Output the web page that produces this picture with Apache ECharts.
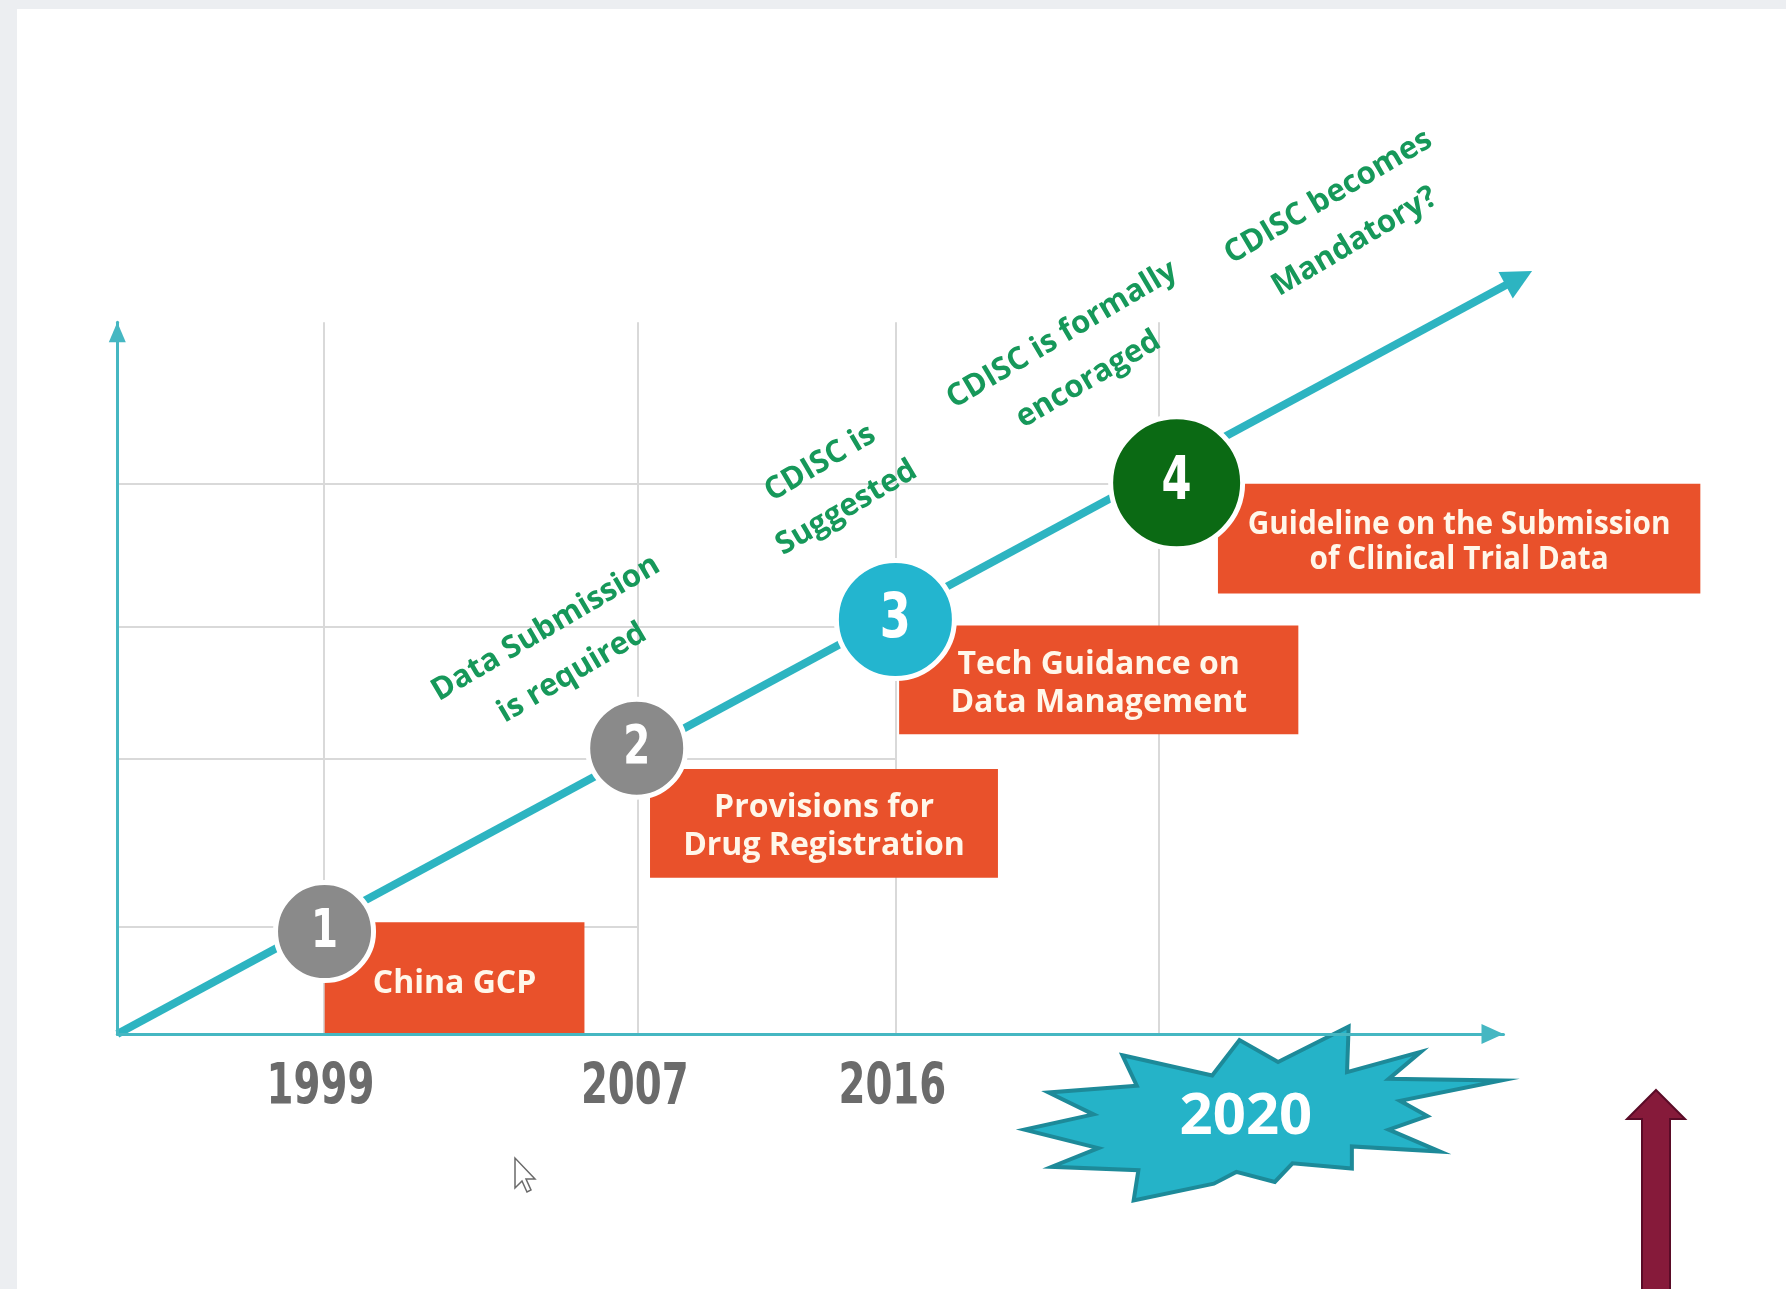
<!DOCTYPE html>
<html>
<head>
<meta charset="utf-8">
<script src="https://cdn.jsdelivr.net/npm/echarts@6/dist/echarts.min.js"></script>
<style>
html,body{margin:0;padding:0;background:#fff;}
#chart{width:1786px;height:1289px;}
</style>
</head>
<body>
<div id="chart"></div>
<script>
// ---------------- data ----------------
const years = ['1999', '2007', '2016', '2020'];
const stepNumbers = ['1', '2', '3', '4'];
// milestone positions on the timeline (x) and progress (y) scales, 0..100 units
const timelinePos = [14.87, 37.55, 56.13, 75.10];
const progressLevel = [15.04, 38.71, 57.27, 77.27];
const markerX = [14.95, 37.47, 56.13, 76.42];
const markerY = [14.4, 40.16, 58.24, 77.44];
const events = [
  'China GCP',
  'Provisions for\nDrug Registration',
  'Tech Guidance on\nData Management',
  'Guideline on the Submission\nof Clinical Trial Data'
];
// event box extents: [xStart, xEnd, yBottom, yTop]
const eventBoxes = [
  [14.96, 33.70, 0.00, 15.70],
  [38.43, 63.53, 21.94, 37.24],
  [56.40, 85.20, 42.10, 57.40],
  [79.40, 114.20, 61.90, 77.30]
];
const stages = [
  'Data Submission\nis required',
  'CDISC is\nSuggested',
  'CDISC is formally\nencoraged',
  'CDISC becomes\nMandatory?'
];
const stageX = [31.86, 51.65, 69.10, 88.31];
const stageY = [53.87, 77.07, 95.10, 114.47];
const trendEnd = [102.06, 107.2];
const highlightYear = '2020';
const highlightPos = [81.42, -11.77];

// ---------------- styles ----------------
const TEAL = '#2db4c1';
const AXIS = '#45b7c2';
const GRID = '#d9d9d9';
const BOX = '#e9512b';
const BOX_TEXT = '#fff7ea';
const GREEN_TEXT = '#16985a';
const markerColors = ['#8a8a8a', '#8a8a8a', '#23b5cf', '#0b6a14'];
const markerSizes = [98, 98, 118, 132];
const markerFont = [54, 54, 62, 60];
const HEAVY = "'DejaVu Sans',sans-serif";
const SANS = "'Open Sans','Noto Sans',sans-serif";
// star outline relative to its centre (px)
const starShape = [
  [-130,-62.5],[-35.5,-42.2],[-6.8,-77.7],[33.8,-55.7],[108.1,-91.2],[106.4,-45.6],
  [184.1,-65.9],[150.3,-38.9],[268.6,-37.2],[162.2,-16.9],[190.9,-1.7],[150.3,11.8],
  [204.4,33.8],[111.5,28.7],[111.5,50.7],[49,45.6],[30.4,64.2],[-10.1,54.1],
  [-33.8,65.9],[-118.2,82.8],[-113.2,52.4],[-204.4,49],[-155.4,30.4],[-233.1,11.8],
  [-160.5,-3.4],[-207.8,-25.3],[-114.9,-32.1]
];

// grid lines (staircase)
const gridLines = [];
timelinePos.forEach(function (x) {
  gridLines.push([{ coord: [x, 0] }, { coord: [x, 100] }]);
});
progressLevel.forEach(function (y, i) {
  const xEnd = timelinePos[Math.min(i + 1, timelinePos.length - 1)];
  gridLines.push([{ coord: [0, y] }, { coord: [xEnd, y] }]);
});

const chart = echarts.init(document.getElementById('chart'), null, { renderer: 'canvas' });

const option = {
  animation: false,
  backgroundColor: '#ffffff',
  grid: { left: 117.3, right: 282.5, top: 322.3, bottom: 255 },
  xAxis: {
    type: 'value', min: 0, max: 100, z: 10,
    axisLine: { show: true, lineStyle: { color: AXIS, width: 3 },
      symbol: ['none', 'triangle'], symbolSize: [20, 22], symbolOffset: [0, -11] },
    axisTick: { show: false },
    splitLine: { show: false },
    axisLabel: { show: false }
  },
  yAxis: {
    type: 'value', min: 0, max: 100, z: 10,
    axisLine: { show: true, lineStyle: { color: AXIS, width: 3 },
      symbol: ['none', 'triangle'], symbolSize: [17, 20], symbolOffset: [0, -10] },
    axisTick: { show: false },
    splitLine: { show: false },
    axisLabel: { show: false }
  },
  graphic: [
    { type: 'rect', z: -5, silent: true, shape: { x: 0, y: 0, width: 1786, height: 9 }, style: { fill: '#eceef1' } },
    { type: 'rect', z: -5, silent: true, shape: { x: 0, y: 0, width: 17, height: 1289 }, style: { fill: '#eceef1' } },
    { type: 'polygon', z: 50, silent: true,
      shape: { points: [[1656,1090],[1685,1119],[1670,1119],[1670,1292],[1642,1292],[1642,1119],[1627,1119]] },
      style: { fill: '#861a3a', stroke: '#5a0b27', lineWidth: 2 } },
    { type: 'polygon', z: 50, silent: true,
      shape: { points: [[515,1158],[515,1188],[522,1181],[527,1192],[531,1190],[526,1179],[535,1179]] },
      style: { fill: '#ffffff', stroke: '#6a6a6a', lineWidth: 1.5 } }
  ],
  series: [
    {
      name: 'grid', type: 'line', data: [], z: 1, silent: true,
      markLine: {
        z: 1, silent: true, symbol: ['none', 'none'], animation: false,
        label: { show: false },
        lineStyle: { color: GRID, width: 2, type: 'solid' },
        emphasis: { disabled: true },
        data: gridLines
      }
    },
    {
      name: 'years', type: 'custom', z: 3, silent: true,
      data: timelinePos.slice(0, 3).map(function (x) { return [x, 0]; }),
      renderItem: function (params, api) {
        const c = api.coord([api.value(0), api.value(1)]);
        return {
          type: 'text', x: c[0] - 3, y: c[1] + 55, scaleX: 0.68,
          style: { text: years[params.dataIndex], fill: '#6b6b6b', align: 'center', verticalAlign: 'middle',
            font: 'bold 57px ' + HEAVY }
        };
      }
    },
    {
      name: 'highlight', type: 'custom', z: 2, silent: true,
      data: [highlightPos],
      renderItem: function (params, api) {
        const c = api.coord([api.value(0), api.value(1)]);
        const pts = starShape.map(function (p) { return [c[0] + p[0] * 0.95, c[1] + p[1]]; });
        return {
          type: 'group',
          children: [
            { type: 'polygon', shape: { points: pts },
              style: { fill: '#25b3c8', stroke: '#1d8a99', lineWidth: 4, lineJoin: 'miter' } },
            { type: 'text', x: c[0], y: c[1],
              style: { text: highlightYear, fill: '#ffffff', align: 'center', verticalAlign: 'middle',
                font: 'bold 58px ' + SANS } }
          ]
        };
      }
    },
    {
      name: 'trend', type: 'custom', z: 3, silent: true,
      data: [[0, 0, trendEnd[0], trendEnd[1]]],
      renderItem: function (params, api) {
        const p0 = api.coord([api.value(0), api.value(1)]);
        const p1 = api.coord([api.value(2), api.value(3)]);
        const dx = p1[0] - p0[0], dy = p1[1] - p0[1];
        const len = Math.sqrt(dx * dx + dy * dy);
        const ux = dx / len, uy = dy / len;
        const headLen = 30, headHalf = 15;
        const base = [p1[0] - ux * headLen, p1[1] - uy * headLen];
        const nx = -uy, ny = ux;
        return {
          type: 'group',
          children: [
            { type: 'line', shape: { x1: p0[0], y1: p0[1], x2: base[0] + ux * 2, y2: base[1] + uy * 2 },
              style: { stroke: TEAL, lineWidth: 8 } },
            { type: 'polygon', shape: { points: [
                [p1[0], p1[1]],
                [base[0] + nx * headHalf, base[1] + ny * headHalf],
                [base[0] - nx * headHalf, base[1] - ny * headHalf]
              ] }, style: { fill: TEAL } }
          ]
        };
      }
    },
    {
      name: 'events', type: 'custom', z: 4, silent: true,
      data: eventBoxes,
      renderItem: function (params, api) {
        const i = params.dataIndex;
        const a = api.coord([api.value(0), api.value(3)]);
        const b = api.coord([api.value(1), api.value(2)]);
        const last = i === 3;
        return {
          type: 'group',
          children: [
            { type: 'rect', shape: { x: a[0], y: a[1], width: b[0] - a[0], height: b[1] - a[1] },
              style: { fill: BOX } },
            { type: 'text', x: (a[0] + b[0]) / 2, y: (a[1] + b[1]) / 2 + (i === 0 ? 6 : 3.5),
              scaleX: last ? 0.93 : 1,
              style: { text: events[i], fill: BOX_TEXT, align: 'center', verticalAlign: 'middle',
                font: 'bold 32px ' + SANS,
                lineHeight: last ? 35 : 38 } }
          ]
        };
      }
    },
    {
      name: 'stages', type: 'custom', z: 6, silent: true,
      data: stageX.map(function (x, i) { return [x, stageY[i]]; }),
      renderItem: function (params, api) {
        const i = params.dataIndex;
        const c = api.coord([api.value(0), api.value(1)]);
        return {
          type: 'text', x: c[0], y: c[1], rotation: 30.5 * Math.PI / 180,
          style: { text: stages[i], fill: GREEN_TEXT, align: 'center', verticalAlign: 'middle',
            font: 'bold 31px ' + SANS, lineHeight: 52 }
        };
      }
    },
    {
      name: 'milestones', type: 'scatter', z: 8, silent: true,
      data: markerX.map(function (x, i) {
        return { value: [x, markerY[i]], symbolSize: markerSizes[i], itemStyle: { color: markerColors[i] } };
      }),
      symbol: 'circle',
      itemStyle: { borderColor: '#ffffff', borderWidth: 5, opacity: 1 },
      label: { show: false }
    },
    {
      name: 'milestoneNumbers', type: 'custom', z: 9, silent: true,
      data: markerX.map(function (x, i) { return [x, markerY[i]]; }),
      renderItem: function (params, api) {
        const i = params.dataIndex;
        const c = api.coord([api.value(0), api.value(1)]);
        return {
          type: 'text', x: c[0], y: c[1] + 1, scaleX: 0.72,
          style: { text: stepNumbers[i], fill: '#ffffff', align: 'center', verticalAlign: 'middle',
            font: 'bold ' + markerFont[i] + 'px ' + HEAVY }
        };
      }
    }
  ]
};
chart.setOption(option);
</script>
</body>
</html>
